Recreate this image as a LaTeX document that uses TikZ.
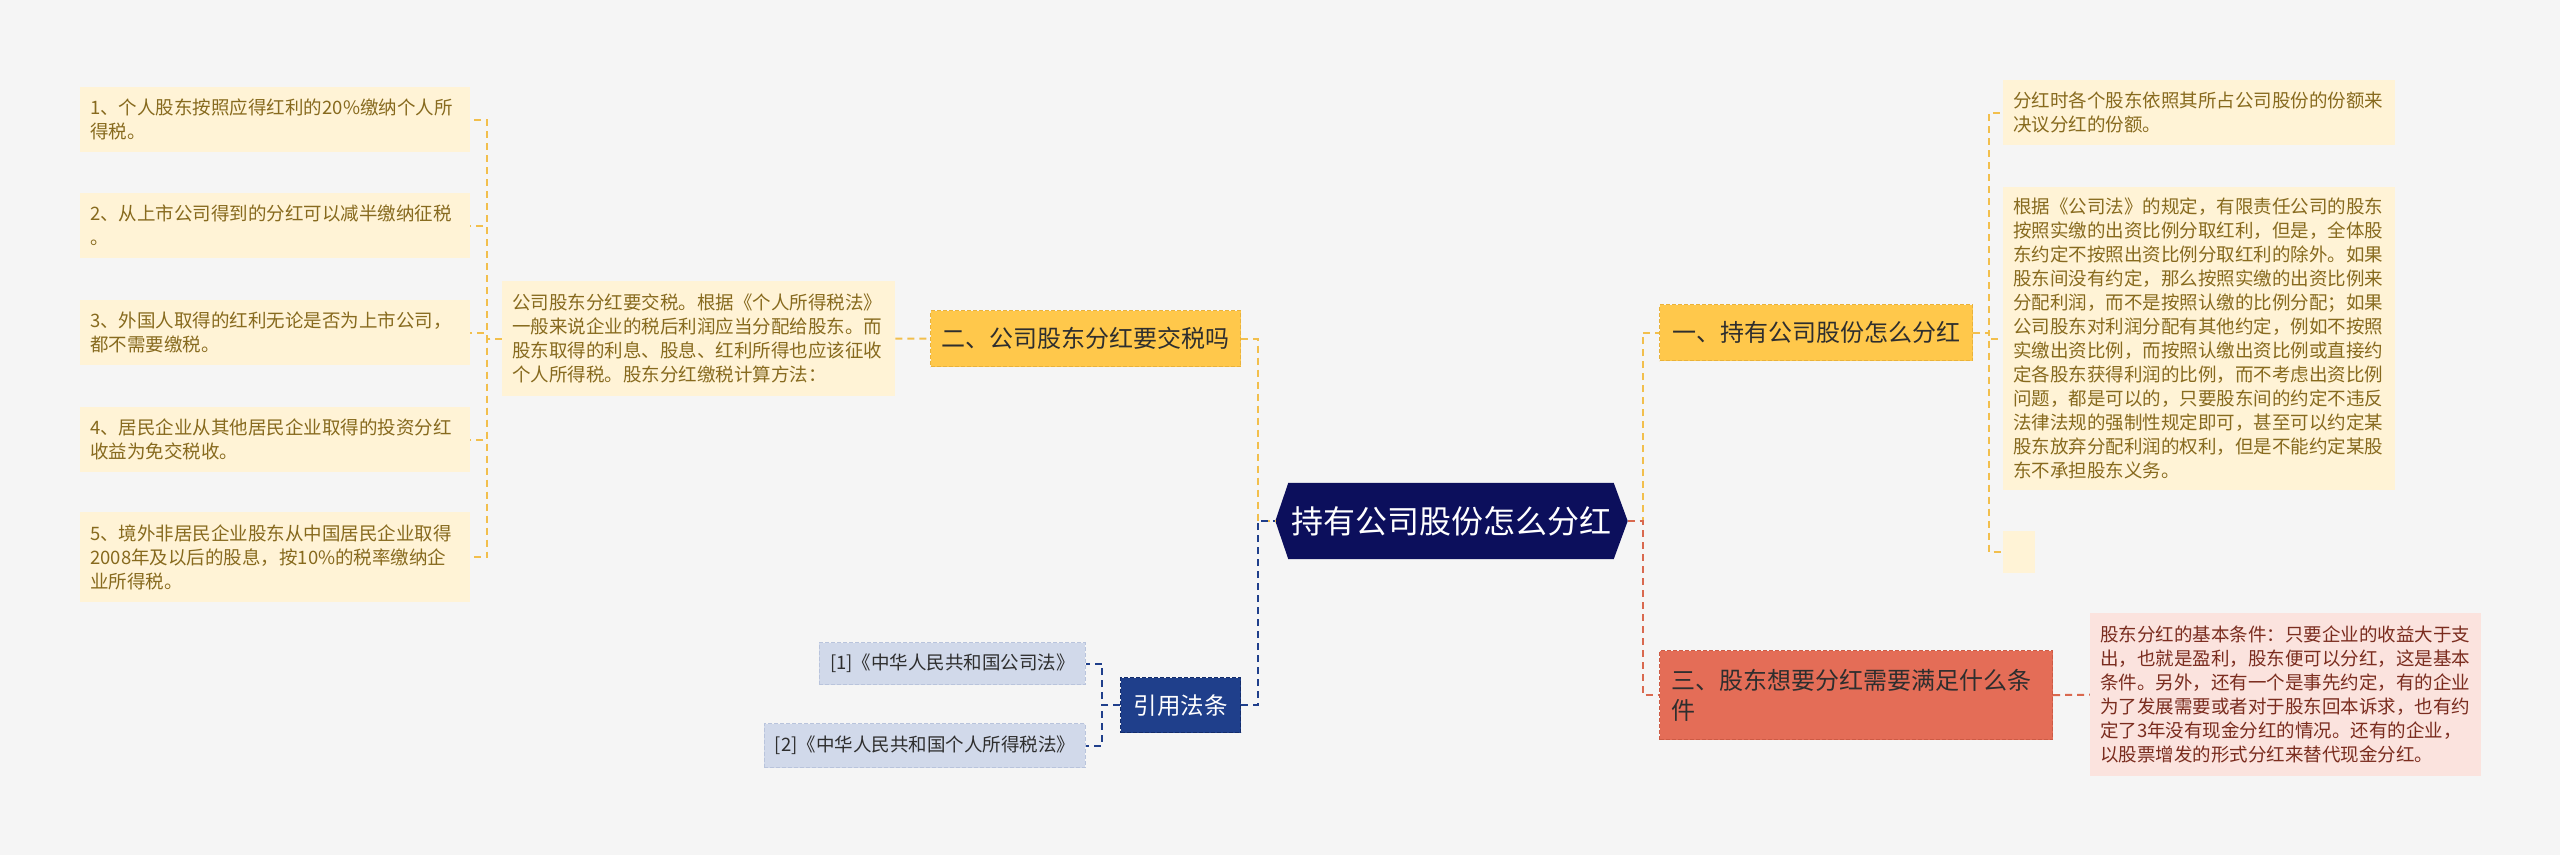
\documentclass[tikz,border=0pt]{standalone}
\usepackage{fontspec}
\setmainfont{Noto Sans CJK SC}
\usetikzlibrary{backgrounds}
\definecolor{bgc}{HTML}{F5F5F5}
\definecolor{rootc}{HTML}{0C0F5C}
\definecolor{ylw}{HTML}{FFC84B}
\definecolor{ylwd}{HTML}{E9B23A}
\definecolor{yconc}{HTML}{F2BF4C}
\definecolor{cream}{HTML}{FFF3D6}
\definecolor{goldtxt}{HTML}{876A1E}
\definecolor{coral}{HTML}{E46D57}
\definecolor{corald}{HTML}{CD5B45}
\definecolor{rconc}{HTML}{D9694F}
\definecolor{pinkc}{HTML}{FBE3DE}
\definecolor{redtxt}{HTML}{7A2C1E}
\definecolor{navyb}{HTML}{1F3F8B}
\definecolor{navybd}{HTML}{132C6B}
\definecolor{lav}{HTML}{D1D9EA}
\definecolor{lavd}{HTML}{B9C4DC}
\definecolor{darktxt}{HTML}{2E2E2E}
\begin{document}
\begin{tikzpicture}[x=1pt,y=-1pt,
  con/.style={line width=2pt, dash pattern=on 7pt off 5pt},
  yconn/.style={con, draw=yconc},
  rconn/.style={con, draw=rconc},
  bconn/.style={con, draw=navyb},
  leaf/.style={fill=cream, text=goldtxt, font=\fontsize{18.5pt}{24pt}\selectfont, align=left, inner xsep=10pt, inner ysep=0pt, anchor=north west},
  pinkleaf/.style={leaf, fill=pinkc, text=redtxt},
  boxbase/.style={line width=1.2pt, dash pattern=on 4pt off 2pt, inner sep=0pt, anchor=north west, font=\fontsize{24pt}{30pt}\selectfont},
  ybranch/.style={boxbase, fill=ylw, draw=ylwd, text=darktxt},
  rbranch/.style={boxbase, fill=coral, draw=corald, text=darktxt, align=left, inner xsep=12pt},
  citebox/.style={boxbase, fill=navyb, draw=navybd, text=white, font=\fontsize{23.5pt}{28pt}\selectfont},
  refbox/.style={boxbase, fill=lav, draw=lavd, text=darktxt, font=\fontsize{18.5pt}{24pt}\selectfont, anchor=north east},
  rootbox/.style={inner sep=0pt, minimum width=325pt, minimum height=76pt, text=white, font=\fontsize{32pt}{36pt}\selectfont}
]
\begin{scope}[on background layer]
\fill[bgc] (0,0) rectangle (2560,855);
\end{scope}
\useasboundingbox (0,0) rectangle (2560,855);

% left leaves
\node[leaf, text width=370pt, minimum height=65pt] (la1) at (80,87) {1、个人股东按照应得红利的20\%缴纳个人所\\得税。};
\node[leaf, text width=370pt, minimum height=65pt] (la2) at (80,193) {2、从上市公司得到的分红可以减半缴纳征税\\。};
\node[leaf, text width=370pt, minimum height=65pt] (la3) at (80,300) {3、外国人取得的红利无论是否为上市公司，\\都不需要缴税。};
\node[leaf, text width=370pt, minimum height=65pt] (la4) at (80,407) {4、居民企业从其他居民企业取得的投资分红\\收益为免交税收。};
\node[leaf, text width=370pt, minimum height=90pt] (la5) at (80,512) {5、境外非居民企业股东从中国居民企业取得\\2008年及以后的股息，按10\%的税率缴纳企\\业所得税。};

% parent text of branch 2
\node[leaf, text width=373pt, minimum height=115pt] (p2) at (502,281) {公司股东分红要交税。根据《个人所得税法》\\一般来说企业的税后利润应当分配给股东。而\\股东取得的利息、股息、红利所得也应该征收\\个人所得税。股东分红缴税计算方法：};

% branch 2
\node[ybranch, minimum width=310pt, minimum height=56pt] (b2) at (930,310) {二、公司股东分红要交税吗};

% root
\node[rootbox] (root) at (1451,521) {持有公司股份怎么分红};
\coordinate (rootW) at ([xshift=-13pt]root.west);
\coordinate (rootE) at ([xshift=14pt]root.east);
\begin{scope}[on background layer]
\fill[rootc] (root.north west) -- (root.north east) -- (rootE) -- (root.south east) -- (root.south west) -- (rootW) -- cycle;
\end{scope}

% citations
\node[citebox, minimum width=120pt, minimum height=55pt] (cite) at (1120,677) {引用法条};
\node[refbox, minimum width=266pt, minimum height=42pt] (ref1) at (1086,642) {[1]《中华人民共和国公司法》};
\node[refbox, minimum width=321pt, minimum height=44pt] (ref2) at (1086,723) {[2]《中华人民共和国个人所得税法》};

% right branches
\node[ybranch, minimum width=313pt, minimum height=56pt] (b1) at (1659,304) {一、持有公司股份怎么分红};
\node[rbranch, text width=369pt, minimum height=89pt] (b3) at (1659,650) {三、股东想要分红需要满足什么条\\件};

% right leaves
\node[leaf, text width=372pt, minimum height=65pt] (rl1) at (2003,80) {分红时各个股东依照其所占公司股份的份额来\\决议分红的份额。};
\node[leaf, text width=372pt, minimum height=303pt] (rl2) at (2003,187) {根据《公司法》的规定，有限责任公司的股东\\按照实缴的出资比例分取红利，但是，全体股\\东约定不按照出资比例分取红利的除外。如果\\股东间没有约定，那么按照实缴的出资比例来\\分配利润，而不是按照认缴的比例分配；如果\\公司股东对利润分配有其他约定，例如不按照\\实缴出资比例，而按照认缴出资比例或直接约\\定各股东获得利润的比例，而不考虑出资比例\\问题，都是可以的，只要股东间的约定不违反\\法律法规的强制性规定即可，甚至可以约定某\\股东放弃分配利润的权利，但是不能约定某股\\东不承担股东义务。};
\node[leaf, inner sep=0pt, minimum width=32pt, minimum height=42pt] (rl3) at (2003,531) {};
\node[pinkleaf, text width=371pt, minimum height=163pt] (rl4) at (2090,613) {股东分红的基本条件：只要企业的收益大于支\\出，也就是盈利，股东便可以分红，这是基本\\条件。另外，还有一个是事先约定，有的企业\\为了发展需要或者对于股东回本诉求，也有约\\定了3年没有现金分红的情况。还有的企业，\\以股票增发的形式分红来替代现金分红。};

% connectors
\begin{scope}[on background layer]
\foreach \n in {la1,la2,la3,la4,la5} \draw[yconn] (p2.west) -- ++(-15pt,0) |- (\n.east);
\draw[yconn] (p2.east) -- (b2.west);
\draw[yconn] (b2.east) -- ++(17pt,0) |- (rootW);
\draw[bconn] (cite.east) -- ++(17pt,0) |- (rootW);
\foreach \n in {ref1,ref2} \draw[bconn] (cite.west) -- ++(-18pt,0) |- (\n.east);
\draw[yconn] (rootE) -- ++(15pt,0) |- (b1.west);
\draw[rconn] (rootE) -- ++(15pt,0) |- (b3.west);
\foreach \n in {rl1,rl2,rl3} \draw[yconn] (b1.east) -- ++(16pt,0) |- (\n.west);
\draw[rconn] (b3.east) -- (rl4.west);
\end{scope}
\end{tikzpicture}
\end{document}
